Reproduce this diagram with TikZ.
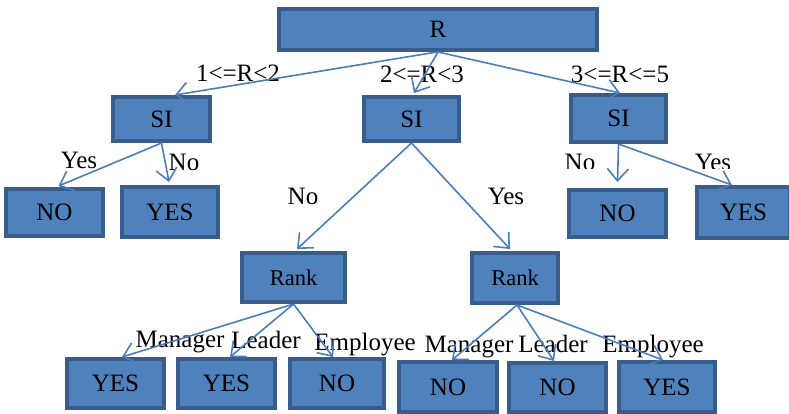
\documentclass[tikz,border=0pt]{standalone}
\usepackage{fontspec}
\setmainfont{Liberation Serif}
\usetikzlibrary{arrows.meta}
\definecolor{boxfill}{HTML}{4F81BD}
\definecolor{boxline}{HTML}{385D8A}
\definecolor{edgeblue}{HTML}{4A7EBB}
\begin{document}
\begin{tikzpicture}[x=1bp,y=-1bp,
  box/.style={draw=boxline, fill=boxfill, line width=4bp, inner sep=0pt,
    font=\fontsize{25bp}{30bp}\selectfont},
  leaf/.style={box, minimum width=97bp, minimum height=49bp},
  lbl/.style={anchor=base, inner sep=0pt, font=\fontsize{25bp}{30bp}\selectfont},
  link/.style={draw=edgeblue, line width=1.6bp,
    -{Straight Barb[length=12bp,width=21bp]}}]
\useasboundingbox (0,0) rectangle (789,413);
\clip (0,0) rectangle (789,413);

% decision nodes
\node[box, minimum width=318bp, minimum height=41bp] (root) at (438,29.5) {R};
\node[box, minimum width=97bp, minimum height=44bp] (siL) at (161.5,119) {SI};
\node[box, minimum width=95bp, minimum height=44bp] (siM) at (411.5,119) {SI};
\node[box, minimum width=95bp, minimum height=47bp] (siR) at (618.5,118.5) {SI};
\node[box, minimum width=103bp, minimum height=49bp,
      font=\fontsize{22.5bp}{27bp}\selectfont] (rankL) at (293.5,277.5) {Rank};
\node[box, minimum width=86bp, minimum height=50bp,
      font=\fontsize{22.5bp}{27bp}\selectfont] (rankR) at (515,278) {Rank};

% leaves
\node[leaf, minimum height=47bp] (noL) at (54.5,212.5) {NO};
\node[leaf, minimum width=96bp, minimum height=50bp] (yesL) at (170,212) {YES};
\node[leaf, minimum height=47bp] (noR) at (617.5,213.5) {NO};
\node[leaf, minimum width=93bp, minimum height=51bp] (yesR) at (743.5,212.5) {YES};
\node[leaf] (b1) at (115.5,383.5) {YES};
\node[leaf] (b2) at (226.5,383.5) {YES};
\node[leaf, minimum width=94bp] (b3) at (337,383.5) {NO};
\node[leaf, minimum width=98bp, minimum height=50bp] (b4) at (448,387) {NO};
\node[leaf] (b5) at (557.5,387.5) {NO};
\node[leaf, minimum width=96bp, minimum height=50bp] (b6) at (667,387) {YES};

% branch labels
\node[lbl] (l1) at (238,81) {1<=R<2};
\node[lbl] (l2) at (422,82) {2<=R<3};
\node[lbl] (l3) at (620,82) {3<=R<=5};
\node[lbl] (l4) at (79,168) {Yes};
\node[lbl] (l5) at (184,170) {No};
\node[lbl] (l6) at (303,204) {No};
\node[lbl] (l7) at (506,204) {Yes};
\begin{scope}
  \clip (540,140) rectangle (760,168);
  \node[lbl] (l8) at (580,170) {No};
  \node[lbl] (l9) at (713,170) {Yes};
\end{scope}
\node[lbl] (l10) at (180,347) {Manager};
\node[lbl] (l11) at (266,348) {Leader};
\node[lbl] (l12) at (365,350) {Employee};
\node[lbl] (l13) at (469,352) {Manager};
\node[lbl] (l14) at (553,352) {Leader};
\node[lbl] (l15) at (653,352) {Employee};

% connectors
\draw[link] ([xshift=-1bp]root.south) -- ([xshift=13.5bp]siL.north);
\draw[link] (root.south) -- ([xshift=2.5bp,yshift=2bp]siM.north);
\draw[link] (root.south) -- ([xshift=1.5bp]siR.north);
\draw[link] (siL.south) -- ([xshift=4bp,yshift=1bp]noL.north);
\draw[link] (siL.south) -- ([xshift=-1bp,yshift=3bp]yesL.north);
\draw[link] (siM.south) -- ([xshift=3.5bp,yshift=2bp]rankL.north);
\draw[link] (siM.south) -- ([xshift=-5bp,yshift=2bp]rankR.north);
\draw[link] (siR.south) -- ([yshift=6bp]noR.north);
\draw[link] (siR.south) -- ([xshift=-11.5bp]yesR.north);
\draw[link] (rankL.south) -- ([xshift=6.5bp]b1.north);
\draw[link] (rankL.south) -- ([xshift=3.5bp]b2.north);
\draw[link] (rankL.south) -- ([xshift=-4bp]b3.north);
\draw[link] ([xshift=2bp]rankR.south) -- ([xshift=4bp]b4.north);
\draw[link] ([xshift=2bp]rankR.south) -- ([xshift=-3.5bp]b5.north);
\draw[link] ([xshift=2bp]rankR.south) -- ([xshift=-4bp]b6.north);
\end{tikzpicture}
\end{document}
